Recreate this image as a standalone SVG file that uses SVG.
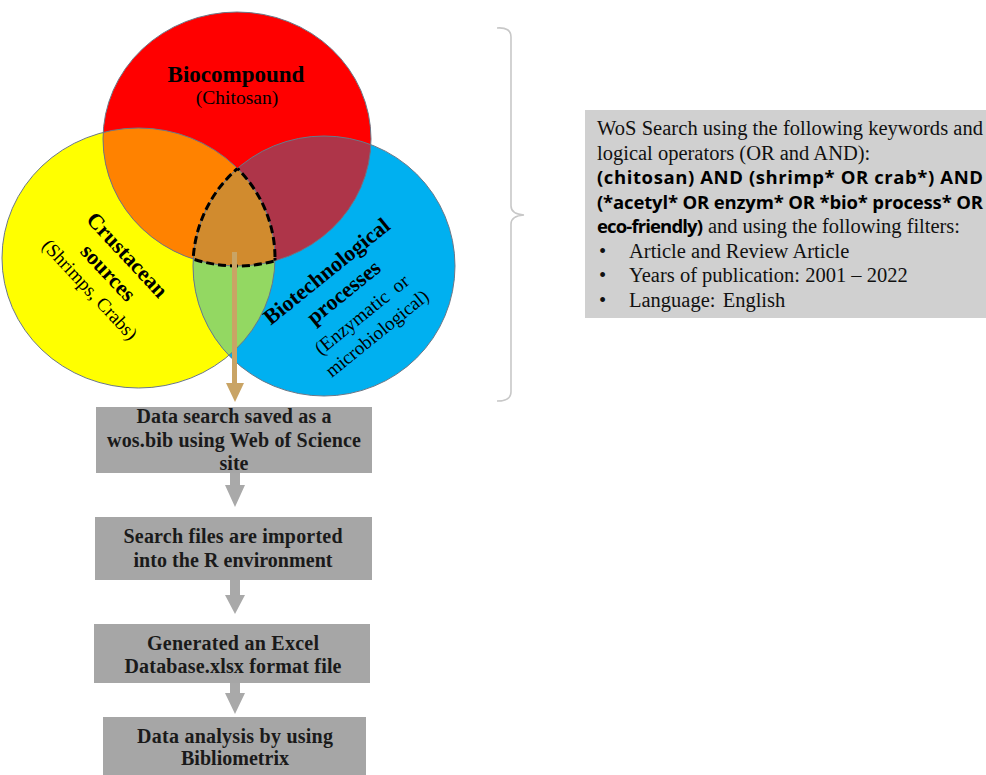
<svg xmlns="http://www.w3.org/2000/svg" width="986" height="775" viewBox="0 0 986 775">
<style>
.outline{fill:none;stroke:#6B7888;stroke-width:1}
.dash{fill:none;stroke:#000;stroke-width:3;stroke-dasharray:8 4}
.vb{font-family:"Liberation Serif","Times New Roman",serif;font-weight:bold;fill:#000}
.vr{font-family:"Liberation Serif","Times New Roman",serif;fill:#000}
.box{fill:#A6A6A6}
.bt{font-family:"Liberation Serif","Times New Roman",serif;font-weight:bold;font-size:20px;fill:#1a1a1a;text-anchor:middle}
.st{font-family:"Liberation Serif","Times New Roman",serif;font-size:20.5px;fill:#111}
.sb{font-family:"Open Sans","Liberation Sans",sans-serif;font-weight:bold;font-size:18.5px;fill:#000}
.garrow{fill:#A9A9A9}
</style>
<defs>
<clipPath id="cR"><ellipse cx="237" cy="139" rx="134" ry="127"/></clipPath>
<clipPath id="cY"><ellipse cx="138.5" cy="258" rx="136.5" ry="130"/></clipPath>
<clipPath id="cB"><ellipse cx="324" cy="266" rx="131" ry="130"/></clipPath>
</defs>
<rect width="986" height="775" fill="#fff"/>

<g id="node-crustacean">
<ellipse cx="138.5" cy="258" rx="136.5" ry="130" fill="#FFFF00"/>
</g>
<g id="node-biotech">
<ellipse cx="324" cy="266" rx="131" ry="130" fill="#00B0F0"/>
</g>
<g id="node-biocompound">
<ellipse cx="237" cy="139" rx="134" ry="127" fill="#FF0000"/>
</g>
<g id="overlaps">
<g clip-path="url(#cR)"><ellipse cx="138.5" cy="258" rx="136.5" ry="130" fill="#FF8200"/></g>
<g clip-path="url(#cR)"><ellipse cx="324" cy="266" rx="131" ry="130" fill="#AE3549"/></g>
<g clip-path="url(#cY)"><ellipse cx="324" cy="266" rx="131" ry="130" fill="#93D862"/></g>
<g clip-path="url(#cR)"><g clip-path="url(#cY)"><ellipse cx="324" cy="266" rx="131" ry="130" fill="#D18B2E"/></g></g>
<ellipse class="outline" cx="138.5" cy="258" rx="136.5" ry="130"/>
<ellipse class="outline" cx="324" cy="266" rx="131" ry="130"/>
<ellipse class="outline" cx="237" cy="139" rx="134" ry="127"/>
<g clip-path="url(#cR)"><g clip-path="url(#cY)"><ellipse class="dash" cx="324" cy="266" rx="131" ry="130"/></g></g>
<g clip-path="url(#cR)"><g clip-path="url(#cB)"><ellipse class="dash" cx="138.5" cy="258" rx="136.5" ry="130"/></g></g>
<g clip-path="url(#cY)"><g clip-path="url(#cB)"><ellipse class="dash" cx="237" cy="139" rx="134" ry="127"/></g></g>
</g>

<g id="label-biocompound">
<text class="vb" x="236" y="82" font-size="23" text-anchor="middle">Biocompound</text>
<text class="vr" x="237" y="104" font-size="19.5" text-anchor="middle">(Chitosan)</text>
</g>
<g id="label-crustacean" transform="translate(127,255) rotate(47)">
<text class="vb" x="0" y="7" font-size="22" text-anchor="middle">Crustacean</text>
<text class="vb" x="0" y="33" font-size="22" text-anchor="middle">sources</text>
<text class="vr" x="0" y="57" font-size="19" text-anchor="middle">(Shrimps, Crabs)</text>
</g>
<g id="label-biotech" transform="translate(328,273) rotate(-39)">
<text class="vb" x="0" y="5" font-size="22" text-anchor="middle">Biotechnological</text>
<text class="vb" x="0" y="32" font-size="22" text-anchor="middle">processes</text>
<text class="vr" x="0" y="60" font-size="19.5" text-anchor="middle" word-spacing="4">(Enzymatic or</text>
<text class="vr" x="0" y="84" font-size="19" text-anchor="middle">microbiological)</text>
</g>

<g id="brace">
<path d="M497,28 Q511,27 511,37 L511,206 Q511,214 524,215 Q511,216 511,224 L511,392 Q511,401 497,401" fill="none" stroke="#C8C8C8" stroke-width="1.6"/>
</g>

<g id="node-search-criteria">
<rect x="585" y="110" width="401" height="208" fill="#D0D0D0"/>
<text class="st" x="597" y="135" textLength="386" lengthAdjust="spacing">WoS Search using the following keywords and</text>
<text class="st" x="597" y="159.5">logical operators (OR and AND):</text>
<text class="sb" x="597" y="184" textLength="386" lengthAdjust="spacing">(chitosan) AND (shrimp* OR crab*) AND</text>
<text class="sb" x="597" y="208.5" textLength="386" lengthAdjust="spacing">(*acetyl* OR enzym* OR *bio* process* OR</text>
<text class="sb" x="597" y="233" textLength="106" lengthAdjust="spacing">eco-friendly)</text>
<text class="st" x="708" y="233" textLength="252" lengthAdjust="spacing">and using the following filters:</text>
<text class="st" x="599" y="257.5">•</text>
<text class="st" x="629" y="257.5">Article and Review Article</text>
<text class="st" x="599" y="282">•</text>
<text class="st" x="629" y="282">Years of publication: 2001 – 2022</text>
<text class="st" x="599" y="306.5">•</text>
<text class="st" x="629" y="306.5" word-spacing="2">Language: English</text>
</g>

<g id="node-step1">
<rect class="box" x="96" y="407" width="276" height="66"/>
<text class="bt" x="234" y="423" textLength="195" lengthAdjust="spacing">Data search saved as a</text>
<text class="bt" x="234" y="447" textLength="254" lengthAdjust="spacing">wos.bib using Web of Science</text>
<text class="bt" x="234" y="470">site</text>
</g>
<g id="node-step2">
<rect class="box" x="95" y="517" width="277" height="63"/>
<text class="bt" x="233" y="543" textLength="219" lengthAdjust="spacing">Search files are imported</text>
<text class="bt" x="233" y="567" textLength="199" lengthAdjust="spacing">into the R environment</text>
</g>
<g id="node-step3">
<rect class="box" x="94" y="624" width="276" height="59"/>
<text class="bt" x="233" y="650" textLength="172" lengthAdjust="spacing">Generated an Excel</text>
<text class="bt" x="233" y="673" textLength="217" lengthAdjust="spacing">Database.xlsx format file</text>
</g>
<g id="node-step4">
<rect class="box" x="103" y="717" width="263" height="58"/>
<text class="bt" x="235" y="743" textLength="196" lengthAdjust="spacing">Data analysis by using</text>
<text class="bt" x="235" y="765" textLength="108" lengthAdjust="spacing">Bibliometrix</text>
</g>

<g id="connectors">
<rect x="232" y="252" width="5" height="133" fill="#C9A465"/>
<polygon points="226,383 244,383 235,402" fill="#C9A465"/>
<polygon class="garrow" points="230,473 240,473 240,485 245,485 235,507 225,485 230,485"/>
<polygon class="garrow" points="230,580 240,580 240,595 245,595 235,614 225,595 230,595"/>
<polygon class="garrow" points="230,683 240,683 240,693 245,693 235,714 225,693 230,693"/>
</g>
</svg>
